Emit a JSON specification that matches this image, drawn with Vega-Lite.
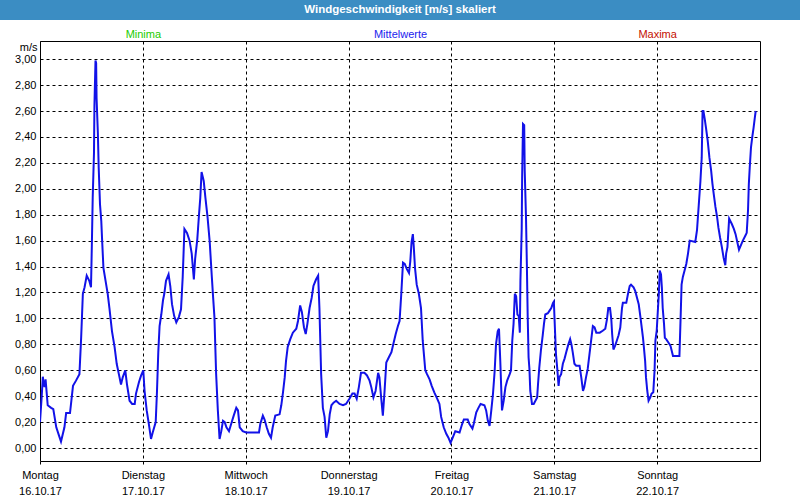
{
  "$schema": "https://vega.github.io/schema/vega-lite/v6.json",
  "padding": 0,
  "background": "white",
  "spacing": 0,
  "config": {
    "font": "Liberation Sans",
    "view": {"stroke": null},
    "concat": {"spacing": 0},
    "axis": {"labelFont": "Liberation Sans", "labelFontSize": 11, "labelColor": "#000000", "titleFont": "Liberation Sans", "titleFontSize": 11, "titleFontWeight": "normal", "titleColor": "#000000"}
  },
  "vconcat": [
    {
      "width": 800,
      "height": 20,
      "view": {"fill": "#3b8dc3", "stroke": null},
      "data": {"values": [{"titel": "Windgeschwindigkeit [m/s] skaliert"}]},
      "mark": {"type": "text", "color": "white", "fontSize": 11.5, "fontWeight": "bold", "font": "Liberation Sans"},
      "encoding": {"text": {"field": "titel", "type": "nominal"}}
    },
    {
      "spacing": 0,
      "bounds": "flush",
      "hconcat": [
        {
          "width": 40,
          "height": 420,
          "data": {"values": [{"v": 0}]},
          "mark": {"type": "point", "opacity": 0},
          "encoding": {
            "y": {
              "field": "v", "type": "quantitative",
              "scale": {"domain": [-0.1, 3.14], "nice": false, "zero": false},
              "axis": {
                "orient": "left", "offset": -40,
                "title": "m/s", "titleAngle": 0, "titleAlign": "right", "titleBaseline": "bottom", "titleX": -3, "titleY": 11,
                "values": [0, 0.2, 0.4, 0.6, 0.8, 1.0, 1.2, 1.4, 1.6, 1.8, 2.0, 2.2, 2.4, 2.6, 2.8, 3.0],
                "labelExpr": "replace(format(datum.value, '.2f'), '.', ',')",
                "labelPadding": 4, "ticks": false, "domain": false, "grid": false,
                "minExtent": 0, "maxExtent": 40
              }
            }
          }
        },
        {
          "width": 720,
          "height": 420,
          "view": {"stroke": "#000000", "strokeWidth": 1},
          "layer": [
            {
              "data": {"values": [
                {"h":0,"v":0.20},{"h":0.4,"v":0.40},{"h":0.66,"v":0.55},{"h":0.85,"v":0.50},{"h":1.05,"v":0.47},{"h":1.3,"v":0.53},{"h":1.8,"v":0.33},{"h":2.6,"v":0.31},{"h":3.1,"v":0.30},{"h":3.8,"v":0.16},{"h":4.4,"v":0.10},{"h":4.9,"v":0.05},{"h":5.7,"v":0.16},{"h":6.1,"v":0.27},{"h":7.0,"v":0.27},{"h":7.7,"v":0.48},{"h":8.4,"v":0.52},{"h":9.2,"v":0.57},{"h":9.6,"v":0.85},{"h":10.0,"v":1.19},{"h":10.4,"v":1.24},{"h":10.9,"v":1.33},{"h":11.5,"v":1.29},{"h":11.9,"v":1.24},{"h":12.1,"v":1.57},{"h":12.3,"v":1.93},{"h":12.6,"v":2.28},{"h":12.7,"v":2.64},{"h":12.95,"v":2.99},{"h":13.1,"v":2.97},{"h":13.2,"v":2.70},{"h":13.5,"v":2.43},{"h":13.7,"v":2.16},{"h":14.0,"v":1.88},{"h":14.3,"v":1.75},{"h":14.5,"v":1.60},{"h":14.8,"v":1.39},{"h":15.3,"v":1.29},{"h":15.8,"v":1.19},{"h":16.2,"v":1.08},{"h":16.8,"v":0.90},{"h":17.4,"v":0.78},{"h":17.9,"v":0.65},{"h":18.4,"v":0.57},{"h":18.9,"v":0.49},{"h":19.3,"v":0.545},{"h":19.9,"v":0.60},{"h":20.3,"v":0.49},{"h":20.9,"v":0.365},{"h":21.5,"v":0.34},{"h":22.1,"v":0.34},{"h":22.4,"v":0.42},{"h":23.1,"v":0.51},{"h":23.6,"v":0.56},{"h":24.1,"v":0.60},
                {"h":24.4,"v":0.44},{"h":24.9,"v":0.29},{"h":25.4,"v":0.185},{"h":25.9,"v":0.07},{"h":26.3,"v":0.12},{"h":27.0,"v":0.20},{"h":27.3,"v":0.44},{"h":27.6,"v":0.74},{"h":27.9,"v":0.94},{"h":28.3,"v":1.03},{"h":28.7,"v":1.14},{"h":29.0,"v":1.19},{"h":29.4,"v":1.29},{"h":30.0,"v":1.34},{"h":30.4,"v":1.25},{"h":30.8,"v":1.11},{"h":31.3,"v":1.02},{"h":31.8,"v":0.97},{"h":32.4,"v":1.01},{"h":32.9,"v":1.07},{"h":33.3,"v":1.32},{"h":33.7,"v":1.69},{"h":34.3,"v":1.66},{"h":34.9,"v":1.60},{"h":35.4,"v":1.50},{"h":35.7,"v":1.38},{"h":35.9,"v":1.30},{"h":36.2,"v":1.46},{"h":36.7,"v":1.61},{"h":37.1,"v":1.80},{"h":37.4,"v":1.93},{"h":37.7,"v":2.13},{"h":38.0,"v":2.09},{"h":38.2,"v":2.06},{"h":38.6,"v":1.93},{"h":39.1,"v":1.78},{"h":39.6,"v":1.59},{"h":40.0,"v":1.37},{"h":40.4,"v":1.16},{"h":40.7,"v":1.01},{"h":41.1,"v":0.57},{"h":41.5,"v":0.29},{"h":41.9,"v":0.07},{"h":42.3,"v":0.13},{"h":42.7,"v":0.21},{"h":43.1,"v":0.20},{"h":43.5,"v":0.16},{"h":44.1,"v":0.13},{"h":44.6,"v":0.185},{"h":45.2,"v":0.25},{"h":45.8,"v":0.31},{"h":46.2,"v":0.29},{"h":46.6,"v":0.16},{"h":47.3,"v":0.13},{"h":48.1,"v":0.12},
                {"h":51.1,"v":0.12},{"h":51.4,"v":0.185},{"h":52.0,"v":0.25},{"h":52.4,"v":0.22},{"h":52.9,"v":0.16},{"h":53.4,"v":0.11},{"h":53.9,"v":0.08},{"h":54.3,"v":0.16},{"h":54.9,"v":0.25},{"h":55.9,"v":0.26},{"h":56.3,"v":0.33},{"h":56.7,"v":0.43},{"h":57.1,"v":0.545},{"h":57.4,"v":0.67},{"h":57.8,"v":0.78},{"h":58.4,"v":0.84},{"h":59.0,"v":0.89},{"h":59.8,"v":0.92},{"h":60.2,"v":0.98},{"h":60.7,"v":1.10},{"h":61.1,"v":1.05},{"h":61.6,"v":0.93},{"h":62.0,"v":0.88},{"h":62.4,"v":0.96},{"h":62.9,"v":1.08},{"h":63.4,"v":1.16},{"h":63.8,"v":1.25},{"h":64.4,"v":1.30},{"h":64.9,"v":1.33},{"h":65.2,"v":1.08},{"h":65.6,"v":0.57},{"h":66.0,"v":0.31},{"h":66.4,"v":0.24},{"h":66.8,"v":0.08},{"h":67.2,"v":0.13},{"h":67.6,"v":0.26},{"h":68.0,"v":0.33},{"h":68.5,"v":0.35},{"h":69.1,"v":0.365},{"h":69.9,"v":0.34},{"h":70.7,"v":0.33},{"h":71.4,"v":0.34},{"h":72.2,"v":0.38},
                {"h":72.9,"v":0.42},{"h":73.4,"v":0.42},{"h":73.9,"v":0.38},{"h":74.4,"v":0.47},{"h":74.9,"v":0.58},{"h":75.7,"v":0.58},{"h":76.3,"v":0.56},{"h":76.9,"v":0.52},{"h":77.3,"v":0.47},{"h":77.8,"v":0.39},{"h":78.3,"v":0.44},{"h":78.9,"v":0.58},{"h":79.2,"v":0.545},{"h":79.6,"v":0.39},{"h":80.0,"v":0.25},{"h":80.4,"v":0.44},{"h":80.8,"v":0.66},{"h":81.4,"v":0.70},{"h":82.0,"v":0.74},{"h":82.5,"v":0.81},{"h":83.0,"v":0.88},{"h":83.5,"v":0.94},{"h":83.9,"v":0.98},{"h":84.3,"v":1.19},{"h":84.7,"v":1.43},{"h":85.1,"v":1.42},{"h":85.6,"v":1.38},{"h":86.1,"v":1.35},{"h":86.4,"v":1.44},{"h":86.7,"v":1.59},{"h":87.0,"v":1.65},{"h":87.2,"v":1.56},{"h":87.5,"v":1.39},{"h":87.9,"v":1.26},{"h":88.4,"v":1.19},{"h":88.9,"v":1.08},{"h":89.3,"v":0.83},{"h":89.9,"v":0.60},{"h":90.3,"v":0.57},{"h":90.9,"v":0.53},{"h":91.4,"v":0.48},{"h":92.0,"v":0.43},{"h":92.7,"v":0.38},{"h":93.2,"v":0.34},{"h":93.6,"v":0.24},{"h":94.2,"v":0.16},{"h":94.8,"v":0.11},{"h":95.3,"v":0.08},{"h":95.8,"v":0.04},
                {"h":96.3,"v":0.08},{"h":96.9,"v":0.13},{"h":97.9,"v":0.12},{"h":98.5,"v":0.185},{"h":98.9,"v":0.22},{"h":99.8,"v":0.22},{"h":100.2,"v":0.185},{"h":100.9,"v":0.15},{"h":101.2,"v":0.185},{"h":101.8,"v":0.275},{"h":102.3,"v":0.31},{"h":102.8,"v":0.34},{"h":103.7,"v":0.33},{"h":104.1,"v":0.29},{"h":104.5,"v":0.21},{"h":104.9,"v":0.17},{"h":105.3,"v":0.29},{"h":105.7,"v":0.42},{"h":106.1,"v":0.60},{"h":106.4,"v":0.80},{"h":106.8,"v":0.90},{"h":107.1,"v":0.92},{"h":107.4,"v":0.67},{"h":107.8,"v":0.29},{"h":108.2,"v":0.365},{"h":108.6,"v":0.47},{"h":109.0,"v":0.52},{"h":109.6,"v":0.57},{"h":109.9,"v":0.60},{"h":110.2,"v":0.83},{"h":110.5,"v":0.96},{"h":110.8,"v":1.19},{"h":111.1,"v":1.17},{"h":111.4,"v":1.03},{"h":111.7,"v":1.02},{"h":111.96,"v":0.89},{"h":112.1,"v":1.29},{"h":112.4,"v":1.69},{"h":112.5,"v":2.09},{"h":112.7,"v":2.50},{"h":112.98,"v":2.49},{"h":113.1,"v":2.14},{"h":113.4,"v":1.78},{"h":113.6,"v":1.42},{"h":113.8,"v":1.01},{"h":114.0,"v":0.70},{"h":114.2,"v":0.61},{"h":114.4,"v":0.44},{"h":114.8,"v":0.34},{"h":115.2,"v":0.34},{"h":115.6,"v":0.365},{"h":116.0,"v":0.39},{"h":116.2,"v":0.49},{"h":116.5,"v":0.62},{"h":116.9,"v":0.76},{"h":117.3,"v":0.87},{"h":117.6,"v":0.96},{"h":117.9,"v":1.03},{"h":118.5,"v":1.04},{"h":118.9,"v":1.06},{"h":119.3,"v":1.08},{"h":119.7,"v":1.12},{"h":119.9,"v":1.13},
                {"h":120.2,"v":0.88},{"h":120.4,"v":0.72},{"h":120.7,"v":0.61},{"h":121.0,"v":0.48},{"h":121.2,"v":0.545},{"h":121.6,"v":0.57},{"h":122.0,"v":0.65},{"h":122.4,"v":0.69},{"h":122.8,"v":0.74},{"h":123.2,"v":0.79},{"h":123.7,"v":0.84},{"h":124.0,"v":0.80},{"h":124.3,"v":0.74},{"h":124.7,"v":0.65},{"h":125.1,"v":0.635},{"h":125.9,"v":0.635},{"h":126.3,"v":0.545},{"h":126.7,"v":0.44},{"h":127.0,"v":0.47},{"h":127.4,"v":0.545},{"h":127.8,"v":0.61},{"h":128.2,"v":0.72},{"h":128.6,"v":0.83},{"h":129.0,"v":0.94},{"h":129.4,"v":0.93},{"h":129.8,"v":0.89},{"h":130.6,"v":0.89},{"h":131.3,"v":0.905},{"h":131.9,"v":0.92},{"h":132.3,"v":0.995},{"h":132.6,"v":1.08},{"h":133.0,"v":1.08},{"h":133.3,"v":0.995},{"h":133.5,"v":0.88},{"h":133.8,"v":0.76},{"h":134.2,"v":0.79},{"h":134.6,"v":0.83},{"h":135.0,"v":0.87},{"h":135.4,"v":0.93},{"h":135.8,"v":1.08},{"h":136.0,"v":1.12},{"h":136.8,"v":1.12},{"h":137.2,"v":1.19},{"h":137.6,"v":1.25},{"h":137.9,"v":1.26},{"h":138.5,"v":1.24},{"h":138.9,"v":1.21},{"h":139.3,"v":1.16},{"h":139.7,"v":1.11},{"h":140.1,"v":1.01},{"h":140.4,"v":0.93},{"h":140.7,"v":0.85},{"h":140.9,"v":0.78},{"h":141.2,"v":0.67},{"h":141.4,"v":0.545},{"h":141.7,"v":0.44},{"h":142.0,"v":0.365},{"h":142.4,"v":0.39},{"h":142.7,"v":0.42},{"h":143.1,"v":0.43},{"h":143.4,"v":0.60},{"h":143.6,"v":0.83},{"h":143.9,"v":0.905},
                {"h":144.2,"v":1.08},{"h":144.4,"v":1.19},{"h":144.6,"v":1.37},{"h":144.9,"v":1.34},{"h":145.1,"v":1.24},{"h":145.3,"v":1.08},{"h":145.6,"v":0.96},{"h":145.8,"v":0.85},{"h":146.1,"v":0.84},{"h":146.7,"v":0.81},{"h":147.1,"v":0.79},{"h":147.7,"v":0.71},{"h":149.2,"v":0.71},{"h":149.5,"v":1.03},{"h":149.7,"v":1.26},{"h":150.0,"v":1.32},{"h":150.4,"v":1.37},{"h":150.8,"v":1.42},{"h":151.2,"v":1.50},{"h":151.6,"v":1.60},{"h":152.9,"v":1.59},{"h":153.3,"v":1.68},{"h":153.7,"v":1.87},{"h":154.1,"v":2.06},{"h":154.4,"v":2.24},{"h":154.6,"v":2.60},{"h":154.8,"v":2.60},{"h":155.1,"v":2.54},{"h":155.4,"v":2.47},{"h":155.8,"v":2.37},{"h":156.2,"v":2.24},{"h":156.6,"v":2.14},{"h":156.9,"v":2.04},{"h":157.2,"v":1.96},{"h":157.6,"v":1.86},{"h":158.0,"v":1.78},{"h":158.3,"v":1.70},{"h":158.7,"v":1.62},{"h":159.1,"v":1.55},{"h":159.5,"v":1.47},{"h":159.9,"v":1.41},{"h":160.1,"v":1.50},{"h":160.4,"v":1.55},{"h":160.8,"v":1.77},{"h":161.1,"v":1.75},{"h":161.4,"v":1.73},{"h":161.9,"v":1.69},{"h":162.3,"v":1.65},{"h":162.7,"v":1.59},{"h":163.1,"v":1.53},{"h":163.6,"v":1.57},{"h":164.0,"v":1.60},{"h":164.6,"v":1.64},{"h":164.9,"v":1.66},{"h":165.2,"v":1.83},{"h":165.4,"v":2.04},{"h":165.6,"v":2.16},{"h":165.9,"v":2.32},{"h":166.2,"v":2.40},{"h":166.5,"v":2.47},{"h":166.8,"v":2.55},{"h":167.0,"v":2.60}
              ]},
              "mark": {"type": "line", "color": "#1212e8", "strokeWidth": 2, "clip": true},
              "encoding": {
                "x": {
                  "field": "h", "type": "quantitative",
                  "scale": {"domain": [0, 168], "nice": false, "zero": false},
                  "axis": {
                    "orient": "bottom", "title": null,
                    "values": [0, 24, 48, 72, 96, 120, 144],
                    "labelExpr": "[['Montag','Dienstag','Mittwoch','Donnerstag','Freitag','Samstag','Sonntag'][round(datum.value/24)], ['16.10.17','17.10.17','18.10.17','19.10.17','20.10.17','21.10.17','22.10.17'][round(datum.value/24)]]",
                    "labelLineHeight": 16, "labelPadding": 5, "labelAlign": "center", "labelBaseline": "top",
                    "domain": false, "ticks": true, "tickSize": 3, "tickColor": "#000000",
                    "grid": true, "gridColor": "#000000", "gridDash": [3, 3], "gridOpacity": 1, "gridWidth": 1
                  }
                },
                "y": {
                  "field": "v", "type": "quantitative",
                  "scale": {"domain": [-0.1, 3.14], "nice": false, "zero": false},
                  "axis": {
                    "title": null, "labels": false, "ticks": false, "domain": false,
                    "values": [0, 0.2, 0.4, 0.6, 0.8, 1.0, 1.2, 1.4, 1.6, 1.8, 2.0, 2.2, 2.4, 2.6, 2.8, 3.0],
                    "minExtent": 0, "maxExtent": 0,
                    "grid": true, "gridColor": "#000000", "gridDash": [3, 3], "gridOpacity": 1, "gridWidth": 1
                  }
                }
              }
            },
            {
              "data": {"values": [
                {"h": 24, "reihe": "Minima"},
                {"h": 84, "reihe": "Mittelwerte"},
                {"h": 144, "reihe": "Maxima"}
              ]},
              "mark": {"type": "point", "opacity": 0},
              "encoding": {
                "x": {
                  "field": "h", "type": "quantitative",
                  "scale": {"domain": [0, 168], "nice": false, "zero": false},
                  "axis": {
                    "orient": "top", "title": null,
                    "values": [24, 84, 144],
                    "labelExpr": "datum.value == 24 ? 'Minima' : datum.value == 84 ? 'Mittelwerte' : 'Maxima'",
                    "labelColor": {"expr": "datum.value == 24 ? '#22cc00' : datum.value == 84 ? '#2222ee' : '#c41000'"},
                    "labelPadding": 2, "labelAlign": "center",
                    "domain": false, "ticks": false, "grid": false,
                    "minExtent": 20, "maxExtent": 20
                  }
                }
              }
            }
          ],
          "resolve": {"axis": {"x": "independent"}}
        }
      ]
    }
  ]
}
